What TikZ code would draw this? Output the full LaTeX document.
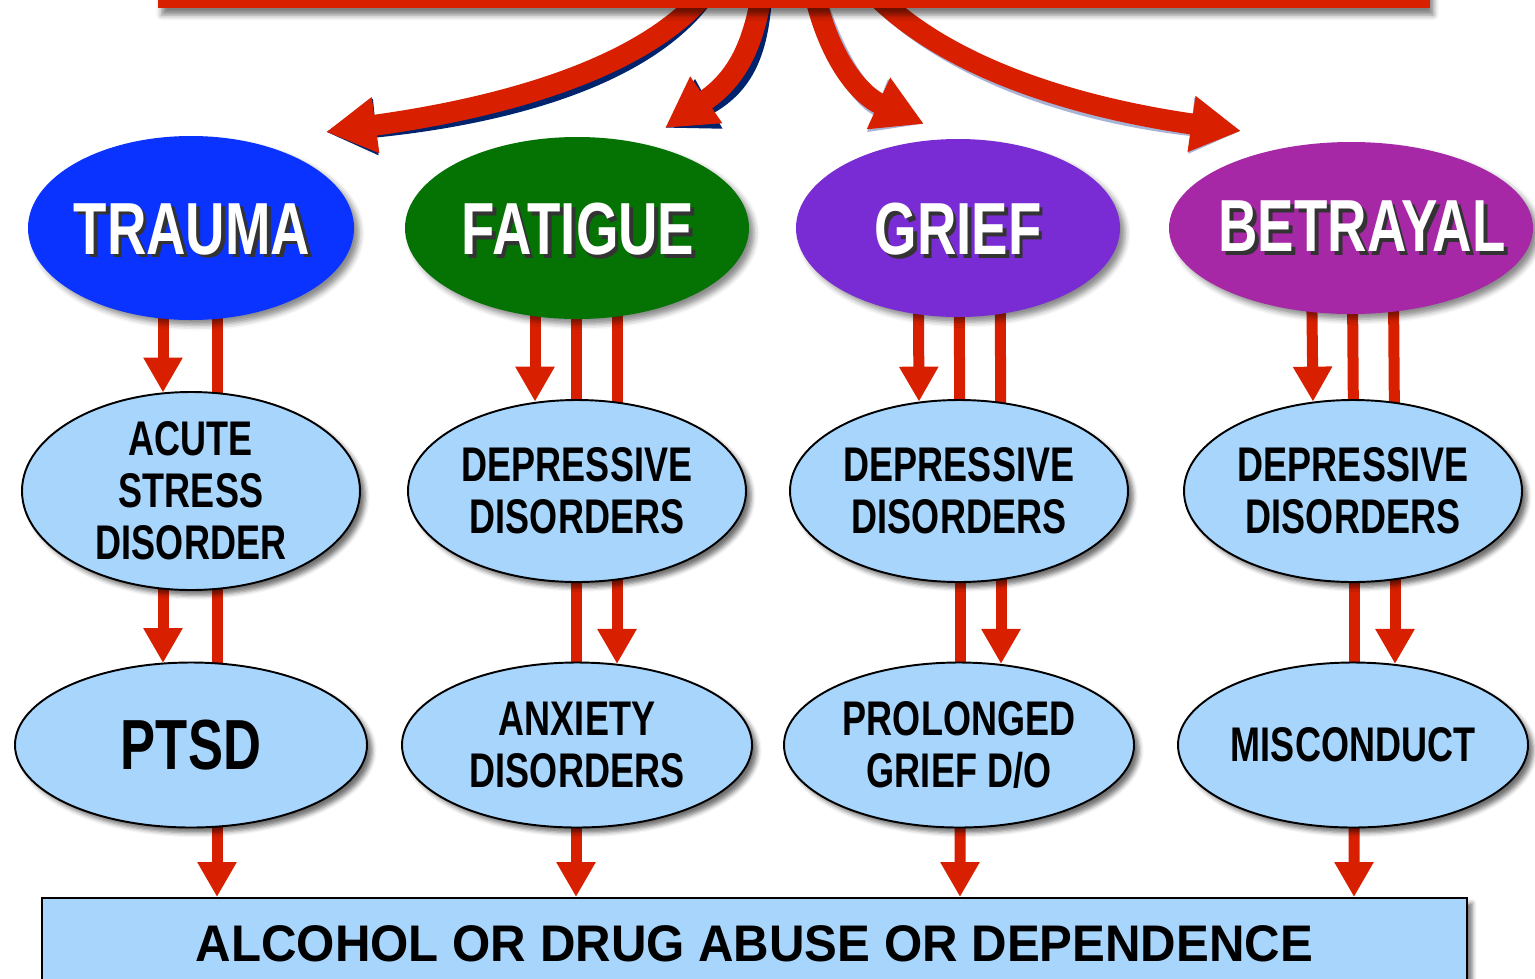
\documentclass[tikz,border=0pt]{standalone}
\usepackage{fontspec}
\setmainfont{Liberation Sans}
\newfontfamily\condfont{Liberation Sans}[FakeStretch=0.74]
\newfontfamily\widefont{Liberation Sans}[FakeStretch=0.955]
\usetikzlibrary{shapes.geometric,arrows.meta,shadows,shadows.blur,backgrounds}
\definecolor{arrred}{RGB}{216,32,0}
\definecolor{lightb}{RGB}{168,213,252}
\definecolor{ctrauma}{RGB}{10,51,255}
\definecolor{cfatigue}{RGB}{4,115,4}
\definecolor{cgrief}{RGB}{122,44,212}
\definecolor{cbetrayal}{RGB}{166,40,166}
\definecolor{navy}{RGB}{0,35,110}
\definecolor{softblue}{RGB}{60,85,160}
\newcommand\pxu{0.02cm}
\newcommand\titlefnt{\condfont\bfseries\fontsize{42}{48}\selectfont}
\newcommand\midfnt{\condfont\bfseries\fontsize{27.7}{29.5}\selectfont}
\newcommand\bigfnt{\condfont\bfseries\fontsize{40.4}{46}\selectfont}
\newcommand\boxfnt{\widefont\bfseries\fontsize{29.3}{34}\selectfont}
\newcommand\shtext[1]{\makebox[0pt][l]{\hspace{2.2pt}\raisebox{-2.2pt}{\textcolor{black!80}{#1}}}\textcolor{white}{#1}}
\begin{document}
\begin{tikzpicture}[x=0.02cm,y=-0.02cm,
  topell/.style={ellipse, inner sep=0pt, blur shadow={shadow xshift=3pt, shadow yshift=-3pt, shadow opacity=45, shadow blur radius=3pt}},
  midell/.style={ellipse, inner sep=0pt, draw=black, line width=1.1pt, fill=lightb, align=center, font=\midfnt,
     blur shadow={shadow xshift=3pt, shadow yshift=-3pt, shadow opacity=55, shadow blur radius=2.5pt}},
  titletxt/.style={inner sep=0pt, font=\titlefnt},
  conn/.style={draw=arrred, line width=0.22cm},
  connarr/.style={conn, -{Triangle[width=0.74cm,length=0.7cm]}},
  bigarr/.style={line width=0.42cm, -{Triangle[width=1.06cm,length=1cm]}},
]
\useasboundingbox (0,0) rectangle (1535,978);

% top ellipses
\node[topell, fill=ctrauma, minimum width={326*\pxu}, minimum height={184*\pxu}] (trauma) at (191,228) {};
\node[topell, fill=cfatigue, minimum width={344*\pxu}, minimum height={182*\pxu}] (fatigue) at (577,228) {};
\node[topell, fill=cgrief, minimum width={324*\pxu}, minimum height={178*\pxu}] (grief) at (958,228) {};
\node[topell, fill=cbetrayal, minimum width={364*\pxu}, minimum height={172*\pxu}] (betrayal) at (1351,228) {};
\node[titletxt] (ttrauma) at (192,231) {\shtext{TRAUMA}};
\node[titletxt] (tfatigue) at (578,231) {\shtext{FATIGUE}};
\node[titletxt] (tgrief) at (958,231) {\shtext{GRIEF}};
\node[titletxt] (tbetrayal) at (1362,228) {\shtext{BETRAYAL}};

% middle ellipses
\node[midell, minimum width={338*\pxu}, minimum height={198*\pxu}] (asd) at (191,491) {ACUTE\\STRESS\\DISORDER};
\node[midell, minimum width={338*\pxu}, minimum height={182*\pxu}] (dep1) at (577,491) {DEPRESSIVE\\DISORDERS};
\node[midell, minimum width={338*\pxu}, minimum height={182*\pxu}] (dep2) at (959,491) {DEPRESSIVE\\DISORDERS};
\node[midell, minimum width={338*\pxu}, minimum height={182*\pxu}] (dep3) at (1353,491) {DEPRESSIVE\\DISORDERS};

% bottom ellipses
\node[midell, minimum width={352*\pxu}, minimum height={165*\pxu}, font=\bigfnt] (ptsd) at (191,745) {PTSD};
\node[midell, minimum width={350*\pxu}, minimum height={165*\pxu}] (anx) at (577,745) {ANXIETY\\DISORDERS};
\node[midell, minimum width={350*\pxu}, minimum height={165*\pxu}] (prol) at (959,745) {PROLONGED\\GRIEF D/O};
\node[midell, minimum width={350*\pxu}, minimum height={165*\pxu}] (misc) at (1353,745) {MISCONDUCT};

% bottom box
\node[draw=black, line width=1.1pt, fill=lightb, inner sep=0pt, font=\boxfnt,
      minimum width={1425*\pxu}, minimum height={92*\pxu},
      blur shadow={shadow xshift=3pt, shadow yshift=-3pt, shadow opacity=55, shadow blur radius=2.5pt}]
      (abuse) at (754.5,944) {ALCOHOL OR DRUG ABUSE OR DEPENDENCE};

% top bar
\node[fill=arrred, inner sep=0pt, minimum width={1272*\pxu}, minimum height={40*\pxu},
      blur shadow={shadow xshift=2pt, shadow yshift=-4pt, shadow opacity=50, shadow blur radius=3pt}]
      (topbar) at (794,-12) {};

% connectors behind the nodes
\begin{scope}[on background layer]
  % column 1
  \draw[connarr] ([xshift=-28*\pxu]trauma.center) -- ([xshift=-28*\pxu, yshift=-1.5*\pxu]asd.north);
  \draw[conn] ([xshift=26*\pxu]trauma.center) -- ([xshift=26*\pxu]asd.center);
  \draw[connarr] ([xshift=-28*\pxu]asd.center) -- ([xshift=-28*\pxu, yshift=-1.5*\pxu]ptsd.north);
  \draw[conn] ([xshift=26*\pxu]asd.center) -- ([xshift=26*\pxu]ptsd.center);
  \draw[connarr] ([xshift=26*\pxu]ptsd.center) -- ([xshift=-537.5*\pxu]abuse.north);
  % column 2
  \draw[connarr] ([xshift=-42*\pxu]fatigue.center) -- ([xshift=-42*\pxu, yshift=-2.6*\pxu]dep1.north);
  \draw[conn] ([xshift=-1*\pxu]fatigue.center) -- ([xshift=-1*\pxu]dep1.center);
  \draw[conn] ([xshift=40*\pxu]fatigue.center) -- ([xshift=40*\pxu]dep1.center);
  \draw[conn] ([xshift=-1*\pxu]dep1.center) -- ([xshift=-1*\pxu]anx.center);
  \draw[connarr] ([xshift=40*\pxu]dep1.center) -- ([xshift=40*\pxu, yshift=-2.4*\pxu]anx.north);
  \draw[connarr] ([xshift=-1*\pxu]anx.center) -- ([xshift=-178.5*\pxu]abuse.north);
  % column 3
  \draw[connarr] ([xshift=-40*\pxu]grief.center) -- ([xshift=-40*\pxu, yshift=-2.6*\pxu]dep2.north);
  \draw[conn] ([xshift=1*\pxu]grief.center) -- ([xshift=1*\pxu]dep2.center);
  \draw[conn] ([xshift=42*\pxu]grief.center) -- ([xshift=42*\pxu]dep2.center);
  \draw[conn] ([xshift=1*\pxu]dep2.center) -- ([xshift=1*\pxu]prol.center);
  \draw[connarr] ([xshift=42*\pxu]dep2.center) -- ([xshift=42*\pxu, yshift=-2.4*\pxu]prol.north);
  \draw[connarr] ([xshift=1*\pxu]prol.center) -- ([xshift=205.5*\pxu]abuse.north);
  % column 4
  \draw[connarr] ([xshift=-40*\pxu]betrayal.center) -- ([xshift=-40*\pxu, yshift=-2.6*\pxu]dep3.north);
  \draw[conn] ([xshift=1*\pxu]betrayal.center) -- ([xshift=1*\pxu]dep3.center);
  \draw[conn] ([xshift=42*\pxu]betrayal.center) -- ([xshift=42*\pxu]dep3.center);
  \draw[conn] ([xshift=1*\pxu]dep3.center) -- ([xshift=1*\pxu]misc.center);
  \draw[connarr] ([xshift=42*\pxu]dep3.center) -- ([xshift=42*\pxu, yshift=-2.4*\pxu]misc.north);
  \draw[connarr] ([xshift=1*\pxu]misc.center) -- ([xshift=599.5*\pxu]abuse.north);

  % curved arrows from the top bar
  \coordinate (s1) at ([xshift=547*\pxu, yshift=14*\pxu]topbar.south west);  \coordinate (e1) at (326,132);
  \coordinate (s2) at ([xshift=604*\pxu, yshift=14*\pxu]topbar.south west);  \coordinate (e2) at (665,128);
  \coordinate (s3) at ([xshift=657*\pxu, yshift=14*\pxu]topbar.south west);  \coordinate (e3) at (924,124);
  \coordinate (s4) at ([xshift=717*\pxu, yshift=14*\pxu]topbar.south west);  \coordinate (e4) at (1241,131);
  \begin{scope}[shift={(6,6)}]
    \draw[bigarr, navy] (s1) .. controls (640,70) and (500,108) .. (e1);
    \draw[bigarr, navy] (s2) .. controls (752,50) and (735,80) .. (e2);
    \draw[bigarr, softblue, opacity=0.45] (s3) .. controls (830,60) and (860,95) .. (e3);
    \draw[bigarr, softblue, opacity=0.45] (s4) .. controls (950,70) and (1080,108) .. (e4);
  \end{scope}
  \draw[bigarr, arrred] (s1) .. controls (640,70) and (500,108) .. (e1);
  \draw[bigarr, arrred] (s2) .. controls (752,50) and (735,80) .. (e2);
  \draw[bigarr, arrred] (s3) .. controls (830,60) and (860,95) .. (e3);
  \draw[bigarr, arrred] (s4) .. controls (950,70) and (1080,108) .. (e4);
\end{scope}
\end{tikzpicture}
\end{document}
